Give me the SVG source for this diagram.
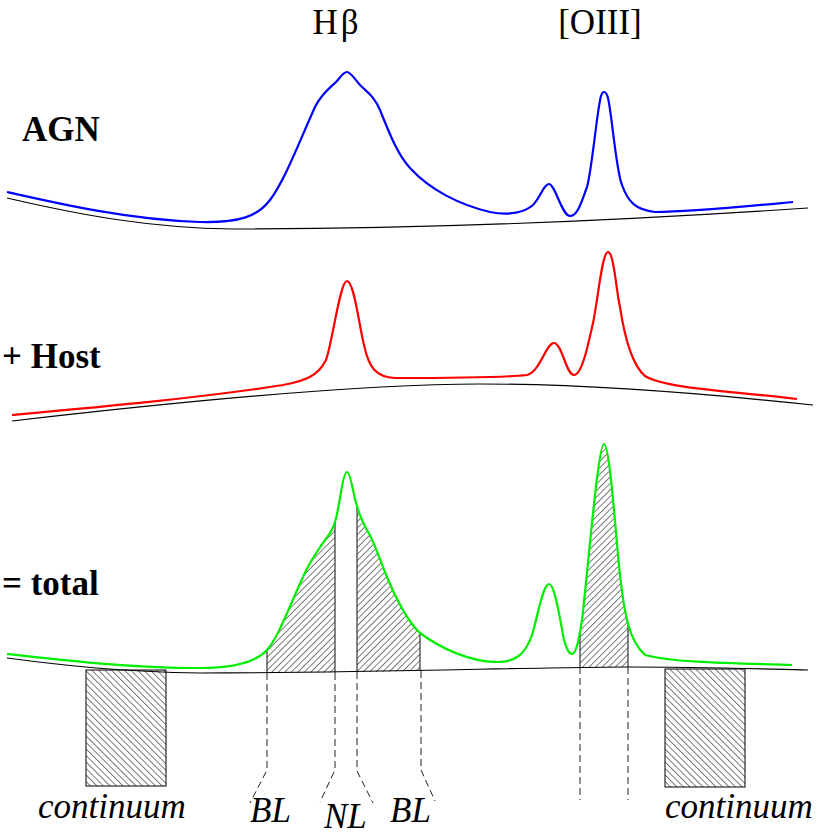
<svg xmlns="http://www.w3.org/2000/svg" width="817" height="836" viewBox="0 0 817 836">
<style>
.lbl{font-family:"Liberation Serif","Times New Roman",serif;font-weight:bold;font-size:35px;fill:#000}
.top{font-family:"Liberation Serif","Times New Roman",serif;font-size:35px;fill:#000;text-anchor:middle}
.it{font-family:"Liberation Serif","Times New Roman",serif;font-style:italic;font-size:35px;fill:#000}
.base{fill:none;stroke:#000;stroke-width:1.2}
.spec{fill:none;stroke-width:2.2;stroke-linejoin:round}
.dash{fill:none;stroke:#222;stroke-width:1;stroke-dasharray:7 4}
.edge{stroke:#333;stroke-width:1.2}
</style>
<defs>
<pattern id="hatchF" patternUnits="userSpaceOnUse" width="4.6" height="4.6" patternTransform="rotate(45)">
<line x1="0" y1="0" x2="0" y2="4.6" stroke="#111" stroke-width="1.1"/>
</pattern>
<pattern id="hatchB" patternUnits="userSpaceOnUse" width="4.6" height="4.6" patternTransform="rotate(-45)">
<line x1="0" y1="0" x2="0" y2="4.6" stroke="#111" stroke-width="1.1"/>
</pattern>
<clipPath id="underGreen">
<path d="M7,654 C60,660 130,668 200,668 C240,668 258,660 267,650 C278,638 290,605 303,577 C310,560 325,540 330,533 C336,524 338,510 341,492 C343,480 345,472 347,472 C349,472 351,480 353,490 C356,505 360,518 367,530 C374,541 378,555 387,577 C395,597 408,622 420,633 C440,648 470,662 497,662 C515,662 525,655 532,635 C538,615 543,584 549,584 C555,584 560,620 564,640 C567,650 569,654 572,654 C576,654 579,640 582,620 C588,570 598,444 604,444 C610,444 616,540 620,575 C624,610 628,640 645,655 C670,662 720,663 792,665 L792,700 L7,700 Z"/>
</clipPath>
</defs>

<g id="labels">
<text class="top" x="337" y="34" letter-spacing="3">Hβ</text>
<text class="top" x="600" y="34">[OIII]</text>
<text class="lbl" x="22" y="141">AGN</text>
<text class="lbl" x="2" y="368">+ Host</text>
<text class="lbl" x="2" y="595">= total</text>
</g>

<g id="agn">
<path class="base" d="M7,198 C80,215 150,228 233,229 C400,229 600,222 808,208"/>
<path class="spec" stroke="#0000ff" d="M7,192 C60,204 130,220 200,222 C240,223 258,216 270,200 C285,180 300,140 315,107 C322,93 330,88 336,82 C340,78 343,72 347,72 C351,72 355,80 361,86 C367,92 374,96 380,110 C390,135 398,155 410,168 C430,190 460,205 490,212 C510,216 525,212 533,205 C540,198 544,184 549,184 C555,184 562,216 570,216 C578,216 582,200 587,187 C592,170 597,110 601,96 C602,93 603,92 604,92 C606,92 607,94 608,98 C612,115 616,170 622,185 C628,202 636,210 655,212 C690,212 740,207 793,202"/>
</g>

<g id="host">
<path class="base" d="M12,421 C150,405 350,384 480,384 C580,384 700,393 813,405"/>
<path class="spec" stroke="#ff0000" d="M12,415 C100,407 200,398 283,385 C305,381 318,376 326,360 C333,340 340,281 347,281 C354,281 359,325 364,345 C369,368 376,377 395,378 C450,378 500,378 527,375 C540,372 546,343 554,343 C562,343 566,375 574,375 C582,375 588,345 593,323 C598,300 602,252 608,252 C614,252 616,290 620,307 C625,340 632,365 645,376 C665,388 720,390 797,399"/>
</g>

<g id="total">
<g clip-path="url(#underGreen)">
<path fill="url(#hatchF)" d="M267,673 L335,672.5 L335,400 L267,400 Z"/>
<path fill="url(#hatchF)" d="M357,672.3 L420,671 L420,400 L357,400 Z"/>
<path fill="url(#hatchF)" d="M580,667 L628,667 L628,400 L580,400 Z"/>
<line class="edge" x1="267" y1="400" x2="267" y2="673"/>
<line class="edge" x1="335" y1="400" x2="335" y2="673"/>
<line class="edge" x1="357" y1="400" x2="357" y2="672"/>
<line class="edge" x1="420" y1="400" x2="420" y2="671"/>
<line class="edge" x1="580" y1="400" x2="580" y2="667"/>
<line class="edge" x1="628" y1="400" x2="628" y2="667"/>
</g>
<path class="base" d="M7,658 C60,665 120,672 200,673 C350,673 550,667 627,667 C700,667 760,669 808,670"/>
<path class="spec" stroke="#00ee00" d="M7,654 C60,660 130,668 200,668 C240,668 258,660 267,650 C278,638 290,605 303,577 C310,560 325,540 330,533 C336,524 338,510 341,492 C343,480 345,472 347,472 C349,472 351,480 353,490 C356,505 360,518 367,530 C374,541 378,555 387,577 C395,597 408,622 420,633 C440,648 470,662 497,662 C515,662 525,655 532,635 C538,615 543,584 549,584 C555,584 560,620 564,640 C567,650 569,654 572,654 C576,654 579,640 582,620 C588,570 598,444 604,444 C610,444 616,540 620,575 C624,610 628,640 645,655 C670,662 720,663 792,665"/>
</g>

<g id="continuum-left">
<rect x="86" y="670" width="80" height="116" fill="url(#hatchB)" stroke="#000" stroke-width="1"/>
<text class="it" x="38" y="818">continuum</text>
</g>
<g id="continuum-right">
<rect x="665" y="669" width="80" height="118" fill="url(#hatchB)" stroke="#000" stroke-width="1"/>
<text class="it" x="665" y="818">continuum</text>
</g>

<g id="connectors">
<path class="dash" d="M267,673 L267,770 L250,803"/>
<path class="dash" d="M335,673 L335,770 L320,802"/>
<path class="dash" d="M357,672 L357,771 L373,803"/>
<path class="dash" d="M421,671 L421,770 L435,801"/>
<path class="dash" d="M580,667 L580,800"/>
<path class="dash" d="M628,667 L628,800"/>
</g>

<g id="line-labels">
<text class="it" x="250" y="822">BL</text>
<text class="it" x="324" y="828">NL</text>
<text class="it" x="390" y="822">BL</text>
</g>
</svg>
